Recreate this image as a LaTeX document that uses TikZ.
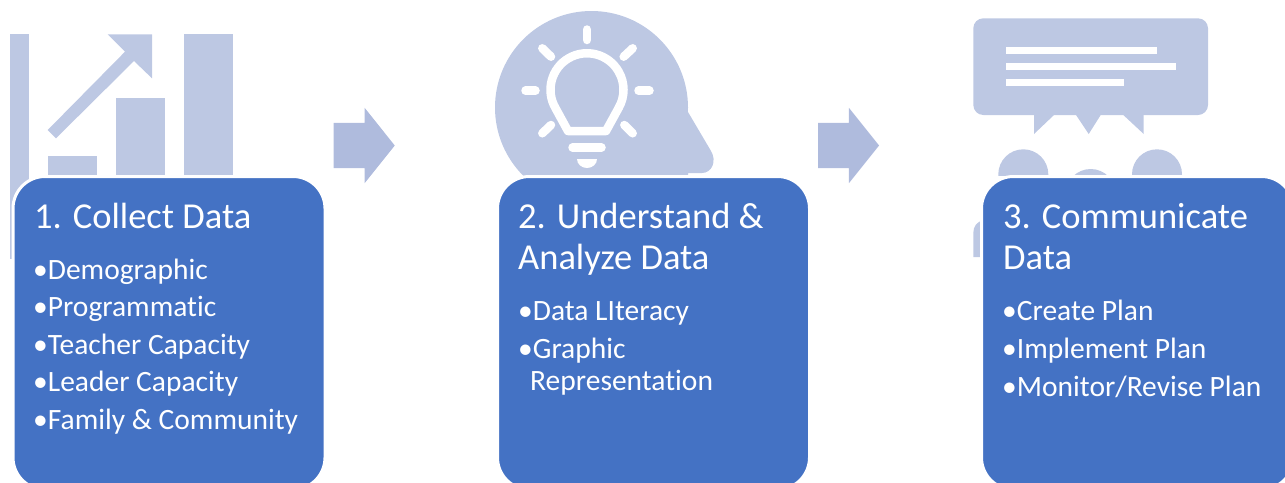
\documentclass[tikz,border=0pt]{standalone}
\usepackage{fontspec}
\setmainfont[Ligatures=NoCommon]{Carlito}
\usetikzlibrary{shapes.arrows}
\definecolor{boxblue}{HTML}{4472C4}
\definecolor{iconblue}{HTML}{BDC8E3}
\definecolor{flowblue}{HTML}{AFBBDD}
\tikzset{
stepbox/.style={shape=rectangle, minimum width=312pt, minimum height=313pt, inner sep=0, rounded corners=32pt, fill=boxblue, draw=white, line width=3pt},
heading/.style={anchor=base west, inner sep=0, text=white, font=\fontsize{36.5}{44}\selectfont},
entry/.style={anchor=base west, inner sep=0, text=white, font=\fontsize{29.5}{35}\selectfont},
flow/.style={single arrow, anchor=tip, fill=flowblue, inner xsep=0, inner ysep=22.5pt, minimum height=61pt, single arrow head extend=15pt, single arrow tip angle=102.7},
icon/.style={fill=iconblue},
glint/.style={draw=white, line width=8.5pt, line cap=round}}
\begin{document}
\begin{tikzpicture}[x=1pt, y=-1pt]
\useasboundingbox (0,0) rectangle (1285,482);
\clip (0,0) rectangle (1285,482);

\fill [icon] (10,34) rectangle (29,259);
\fill [icon] (48,156) rectangle (97,175);
\fill [icon] (116,98) rectangle (165,175);
\fill [icon] (184,34) rectangle (233,175);
\fill [icon] (152,34.3) -- (107.7,34.3) -- (125,51.7) -- (47.7,130) -- (56,138.3) -- (134,61) -- (152,78.3) -- cycle;

\begin{scope}
\clip (480,0) rectangle (720,175);
\fill [icon] (591.5,107.5) circle (96.5pt);
\end{scope}
\fill [icon] (688,112) -- (711,151) .. controls (717,161) and (712,173) .. (702,173) -- (688,173) -- (688,175) -- (600,175) -- (600,112) -- cycle;
\draw [glint] (587,29.5) -- (587,40);
\draw [glint] (525.5,90.7) -- (535.5,90.7);
\draw [glint] (638.5,90.7) -- (649.5,90.7);
\draw [glint] (542.3,48.3) -- (551,56.7);
\draw [glint] (632.7,48.3) -- (623.7,56.7);
\draw [glint] (542.3,133.3) -- (551,125);
\draw [glint] (632.7,133.3) -- (624.3,125);
\draw [glint, line cap=butt, line join=round] (568,131) -- (555.4,108) arc [start angle=150, end angle=390, x radius=36.5, y radius=36.5] -- (606,131) -- cycle;
\draw [glint] (572.5,147.5) -- (601.5,147.5);
\fill [white] (577,159) -- (597,159) arc [start angle=0, end angle=180, x radius=10, y radius=9] -- cycle;

\fill [icon, rounded corners=10pt] (973.3,18.3) rectangle (1208,115);
\fill [icon] (1034,115) -- (1034,134) -- (1054,115) -- cycle;
\fill [icon] (1076,115) -- (1088.7,134) -- (1100.7,115) -- cycle;
\fill [icon] (1123.3,115) -- (1143.7,134) -- (1143.7,115) -- cycle;
\fill [white] (1005.7,47) rectangle (1156.7,53.7);
\fill [white] (1005.7,63.3) rectangle (1176,69.7);
\fill [white] (1005.7,79.3) rectangle (1124,86);
\begin{scope}
\clip (960,140) rectangle (1190,175);
\fill [icon] (1023.3,174.3) circle (25pt);
\fill [icon] (1157,174.3) circle (25pt);
\fill [icon] (1090.7,194) circle (25pt);
\end{scope}
\fill [icon] (973.3,257) -- (973.3,233) .. controls (973.3,226) and (977,222) .. (983,220) -- (990,220) -- (990,257) -- cycle;

\node [flow] at (395,145.5) (flow-1) {};
\node [flow] at (879.3,145.5) (flow-2) {};

\node [stepbox] at (169,333) (box-1) {};
\node [stepbox] at (653.5,333) (box-2) {};
\node [stepbox] at (1137.5,333) (box-3) {};

\node [heading] at (34,228) (title-1) {1. Collect Data};
\foreach \entrytext [count=\j, evaluate={\jy=279+37.6*(\j-1);}] in {Demographic, Programmatic, Teacher Capacity, Leader Capacity, Family \& Community}{
      \node [entry] at (33,\jy) (entry-1-\j) {•\entrytext};
}

\node [heading] at (518,228) (title-2a) {2. Understand \&};
\node [heading] at (518,269) (title-2b) {Analyze Data};
\node [entry] at (518,320) (entry-2-1) {•Data LIteracy};
\node [entry] at (518,358) (entry-2-2) {•Graphic};
\node [entry] at (530,390) (entry-2-3) {Representation};

\node [heading] at (1003,228) (title-3a) {3. Communicate};
\node [heading] at (1003,269) (title-3b) {Data};
\foreach \entrytext [count=\j, evaluate={\jy=320+38*(\j-1);}] in {Create Plan, Implement Plan, Monitor/Revise Plan}{
      \node [entry] at (1002,\jy) (entry-3-\j) {•\entrytext};
}
\end{tikzpicture}
\end{document}
